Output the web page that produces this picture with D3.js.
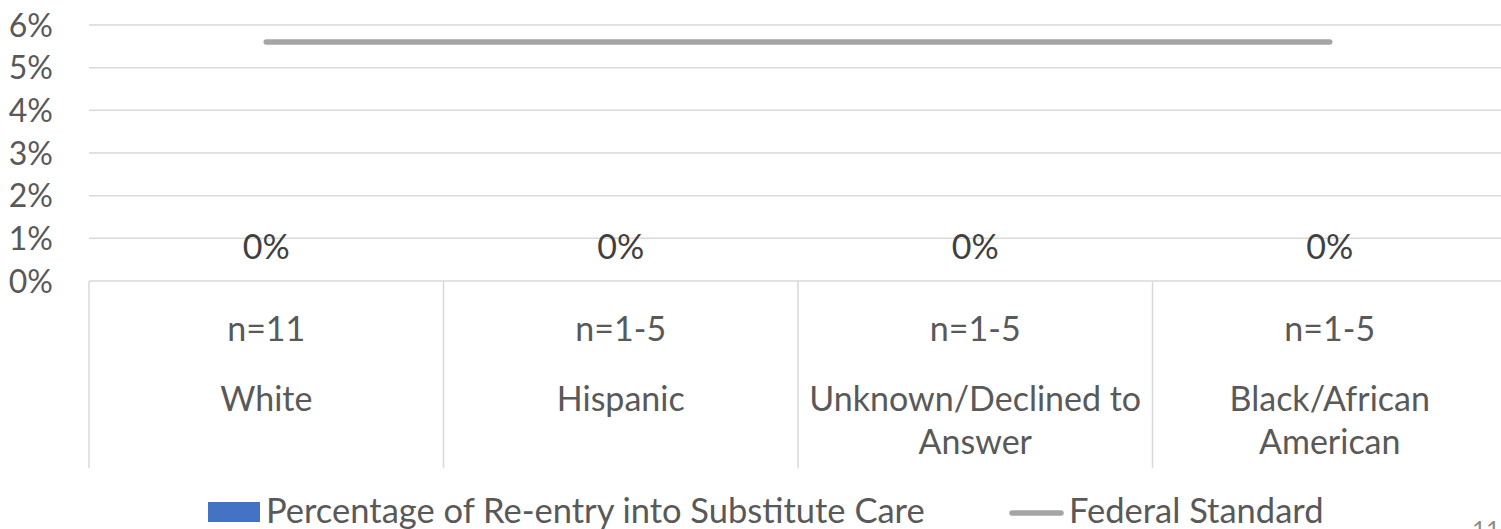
<!DOCTYPE html>
<html>
<head>
<meta charset="utf-8">
<script src="https://cdn.jsdelivr.net/npm/d3@7"></script>
<style>
  html, body { margin: 0; padding: 0; background: #ffffff; overflow: hidden; }
  svg { display: block; font-family: Lato, "Open Sans", sans-serif; }
</style>
</head>
<body>
<svg id="chart" width="1501" height="529"></svg>
<script>
// ---- data ----
const categories = ["White", "Hispanic", "Unknown/Declined to Answer", "Black/African American"];
const sampleSizes = ["n=11", "n=1-5", "n=1-5", "n=1-5"];
const categoryLines = [["White"], ["Hispanic"], ["Unknown/Declined to", "Answer"], ["Black/African", "American"]];
const reentryPct = [0, 0, 0, 0];
const federalStandard = [5.6, 5.6, 5.6, 5.6];
const yTicks = [0, 1, 2, 3, 4, 5, 6];
const seriesNames = ["Percentage of Re-entry into Substitute Care", "Federal Standard"];
const pageNumber = "11";

// ---- layout ----
const svg = d3.select("#chart");
const plotLeft = 89, plotRight = 1507, plotTop = 25, plotBottom = 281;
const axisBottom = 468;
const textColor = "#595959";
const gridColor = "#d9d9d9";
const tickFont = 32;
const labelFont = 34;
const legendFont = 34.5;

const x = d3.scaleBand().domain(categories).range([plotLeft, plotRight]).padding(0);
const y = d3.scaleLinear().domain([0, 6]).range([plotBottom, plotTop]);

// gridlines
svg.append("g").selectAll("line").data(yTicks).join("line")
  .attr("x1", plotLeft).attr("x2", 1501)
  .attr("y1", d => y(d)).attr("y2", d => y(d))
  .attr("stroke", gridColor).attr("stroke-width", 1.5);

// y tick labels
svg.append("g").selectAll("text").data(yTicks).join("text")
  .attr("x", 53).attr("y", d => y(d) + 11.5)
  .attr("text-anchor", "end")
  .attr("font-size", tickFont).attr("fill", textColor)
  .text(d => d3.format(".0%")(d / 100));

// category separators
const seps = [plotLeft].concat(categories.map(c => x(c) + x.bandwidth()));
svg.append("g").selectAll("line").data(seps).join("line")
  .attr("x1", d => d).attr("x2", d => d)
  .attr("y1", plotBottom).attr("y2", axisBottom)
  .attr("stroke", gridColor).attr("stroke-width", 1.5);

// bars (zero height)
const barW = x.bandwidth() * 0.45;
svg.append("g").selectAll("rect").data(reentryPct).join("rect")
  .attr("x", (d, i) => x(categories[i]) + (x.bandwidth() - barW) / 2)
  .attr("y", d => y(d))
  .attr("width", barW)
  .attr("height", d => y(0) - y(d))
  .attr("fill", "#4472c4");

// data labels
svg.append("g").selectAll("text").data(reentryPct).join("text")
  .attr("x", (d, i) => x(categories[i]) + x.bandwidth() / 2)
  .attr("y", d => y(d) - 22.5)
  .attr("text-anchor", "middle")
  .attr("font-size", labelFont).attr("fill", "#404040")
  .text(d => d3.format(".0%")(d / 100));

// federal standard line
const line = d3.line()
  .x((d, i) => x(categories[i]) + x.bandwidth() / 2)
  .y(d => y(d));
svg.append("path").datum(federalStandard)
  .attr("d", line)
  .attr("fill", "none")
  .attr("stroke", "#a5a5a5")
  .attr("stroke-width", 5.5)
  .attr("stroke-linecap", "round");

// category labels
const catG = svg.append("g");
categories.forEach((c, i) => {
  const cx = x(c) + x.bandwidth() / 2;
  catG.append("text").attr("x", cx).attr("y", 341)
    .attr("text-anchor", "middle").attr("font-size", labelFont).attr("fill", textColor)
    .text(sampleSizes[i]);
  categoryLines[i].forEach((ln, j) => {
    catG.append("text").attr("x", cx).attr("y", 411 + j * 43)
      .attr("text-anchor", "middle").attr("font-size", labelFont).attr("fill", textColor)
      .text(ln);
  });
});

// legend
const leg = svg.append("g");
leg.append("rect").attr("x", 208).attr("y", 502).attr("width", 52).attr("height", 20).attr("fill", "#4472c4");
leg.append("text").attr("x", 266).attr("y", 523).attr("font-size", legendFont).attr("fill", textColor).text(seriesNames[0]);
leg.append("line").attr("x1", 1012).attr("x2", 1061).attr("y1", 513).attr("y2", 513)
  .attr("stroke", "#a5a5a5").attr("stroke-width", 5.5).attr("stroke-linecap", "round");
leg.append("text").attr("x", 1069).attr("y", 523).attr("font-size", legendFont).attr("fill", textColor).text(seriesNames[1]);

// page number (cut off at bottom, as in the slide)
svg.append("text").attr("x", 1472).attr("y", 538).attr("font-size", 24).attr("fill", "#8c8c8c").text(pageNumber);
</script>
</body>
</html>
